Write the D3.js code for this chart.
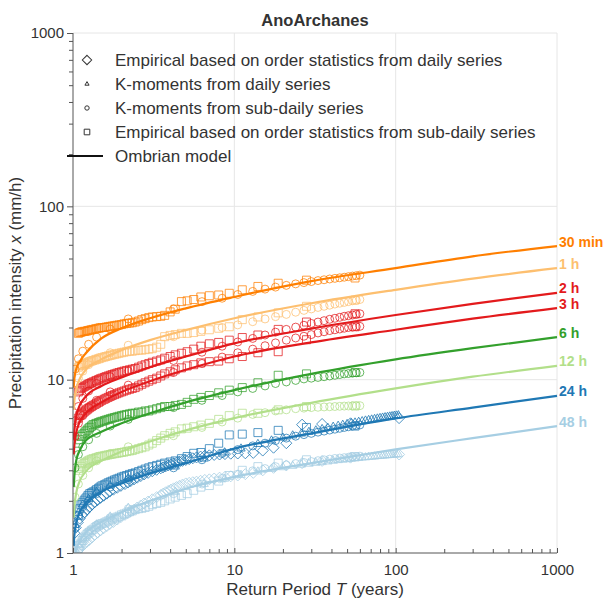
<!DOCTYPE html>
<html>
<head>
<meta charset="utf-8">
<script src="https://cdn.jsdelivr.net/npm/d3@7"></script>
<style>
  body { margin: 0; background: #fff; }
  text { font-family: "Liberation Sans", Arial, sans-serif; }
</style>
</head>
<body>
<div id="chart"></div>
<script>
// durations and colours
const durations = ['30 min', '1 h', '2 h', '3 h', '6 h', '12 h', '24 h', '48 h'];
const colors = ['#ff7f00', '#fdbf6f', '#e31a1c', '#e31a1c', '#33a02c', '#b2df8a', '#1f78b4', '#a6cee3'];

// ombrian model curves
const T_MODEL = [1.01, 1.02, 1.05, 1.1, 1.2, 1.5, 2, 3, 5, 10, 30, 100, 300, 1000];
const model30min = [9.0, 10.2, 11.6, 12.7, 14.2, 17.3, 19.8, 22.6, 25.8, 30, 37, 44, 51.5, 59];
const model1h = [6.7, 7.6, 8.9, 10.1, 11.4, 13.1, 14.8, 16.9, 19.3, 22.6, 27.6, 33, 38.3, 44];
const model2h = [4.5, 5.1, 6.2, 7.1, 8.0, 9.2, 10.3, 11.8, 13.6, 16.2, 19.7, 23.6, 27.4, 31.7];
const model3h = [3.7, 4.2, 5.0, 5.7, 6.4, 7.4, 8.5, 9.8, 11.4, 13.6, 16.4, 19.4, 22.5, 25.9];
const model6h = [2.4, 2.8, 3.45, 3.9, 4.45, 5.0, 5.6, 6.4, 7.4, 8.7, 10.8, 13.1, 15.2, 17.6];
const model12h = [1.6, 1.85, 2.25, 2.6, 2.95, 3.4, 3.85, 4.4, 5.1, 6.0, 7.35, 8.9, 10.4, 12.0];
const model24h = [1.1, 1.27, 1.5, 1.72, 1.94, 2.26, 2.52, 2.88, 3.3, 4.0, 4.9, 5.98, 6.9, 8.06];
const model48h = [0.8, 0.92, 1.05, 1.17, 1.31, 1.51, 1.72, 2.0, 2.35, 2.75, 3.3, 3.96, 4.6, 5.4];

// empirical, sub-daily series (squares)
const T_EMP = [56, 28, 18.7, 14, 11.2, 9.3, 8, 7, 6.2, 5.6, 5.1, 4.7, 4.3, 4, 3.7, 3.5, 3.3, 3.1, 2.95, 2.8,
  2.67, 2.55, 2.43, 2.33, 2.24, 2.15, 2.07, 2, 1.93, 1.87, 1.81, 1.75, 1.7, 1.65, 1.6, 1.56, 1.51, 1.47, 1.44, 1.4,
  1.37, 1.33, 1.3, 1.27, 1.24, 1.22, 1.19, 1.17, 1.14, 1.12, 1.1, 1.08];
const emp30min = [38.6, 37.5, 36, 34.5, 33, 31.5, 30.8, 30.5, 30, 29, 28.5, 28.2, 25.5, 24.6, 23.5, 23.2, 23.1, 23, 22.8, 22.5,
  22.2, 21.8, 21.5, 21.3, 21.2, 21.1, 21, 20.8, 20.7, 20.6, 20.5, 20.4, 20.3, 20.2, 20.1, 20, 20, 19.9, 19.8, 19.7,
  19.6, 19.5, 19.4, 19.3, 19.2, 19.1, 19, 19, 18.9, 18.8, 18.7, 18.5];
const emp1h = [28.8, 26.5, 24.3, 23, 22.2, 20.2, 19.8, 19.4, 19, 18.7, 18.5, 18.5, 18.2, 18, 17.7, 16, 15.4, 15.1, 15, 14.9,
  14.8, 14.8, 14.7, 14.6, 14.6, 14.5, 14.4, 14.3, 14.2, 14.1, 14, 13.9, 13.8, 13.7, 13.6, 13.5, 13.4, 13.3, 13.2, 13.1,
  13, 12.9, 12.8, 12.7, 12.6, 12.5, 12.4, 12.3, 12.2, 12.1, 12, 11.8];
const emp2h = [24, 21.5, 19.5, 18.1, 17.5, 16.9, 16.4, 16.1, 15.6, 15, 14.5, 14.2, 13.9, 13.6, 13.3, 13, 12.8, 12.6, 12.4, 12.2,
  12, 11.8, 11.6, 11.5, 11.4, 11.3, 11.2, 11.1, 11, 10.9, 10.8, 10.7, 10.6, 10.5, 10.4, 10.3, 10.2, 10.1, 10, 9.9,
  9.8, 9.7, 9.6, 9.5, 9.4, 9.3, 9.2, 9.1, 9, 8.9, 8.7, 8.5];
const emp3h = [20.2, 17, 14.5, 14.3, 13.6, 13.2, 12.8, 12.7, 12.5, 12.2, 12, 11.7, 11.4, 11.1, 10.8, 10.5, 10.2, 10, 9.8, 9.6,
  9.4, 9.2, 9, 8.9, 8.8, 8.7, 8.6, 8.5, 8.4, 8.3, 8.2, 8.1, 8, 7.9, 7.8, 7.7, 7.6, 7.5, 7.4, 7.3,
  7.2, 7.1, 7, 6.9, 6.8, 6.7, 6.6, 6.5, 6.4, 6.3, 6.2, 6];
const emp6h = [11, 10.8, 10.6, 9.6, 9, 8.7, 8.4, 8.1, 7.9, 7.7, 7.4, 7.2, 7.1, 7, 7, 6.9, 6.8, 6.7, 6.6, 6.6,
  6.5, 6.5, 6.4, 6.4, 6.35, 6.3, 6.25, 6.2, 6.15, 6.1, 6.05, 6, 5.95, 5.9, 5.85, 5.8, 5.75, 5.7, 5.65, 5.6,
  5.55, 5.5, 5.4, 5.3, 5.2, 5.1, 5, 4.9, 4.8, 4.7, 4.5, 4.3];
const emp12h = [7.05, 7, 6.7, 6.4, 6.4, 6.2, 5.9, 5.6, 5.47, 5.35, 5.25, 5.2, 5, 4.9, 4.75, 4.6, 4.45, 4.3, 4.2, 4.1,
  4.05, 4, 3.95, 3.9, 3.88, 3.85, 3.82, 3.8, 3.78, 3.76, 3.74, 3.72, 3.7, 3.68, 3.66, 3.64, 3.62, 3.6, 3.58, 3.55,
  3.52, 3.5, 3.47, 3.44, 3.4, 3.36, 3.32, 3.28, 3.22, 3.15, 3.08, 3];
const emp24h = [5.4, 5.3, 5.1, 4.95, 4.85, 4.8, 4.3, 4, 3.8, 3.76, 3.6, 3.5, 3.4, 3.35, 3.3, 3.25, 3.2, 3.15, 3.1, 3.05,
  3, 2.95, 2.9, 2.87, 2.84, 2.8, 2.77, 2.74, 2.7, 2.67, 2.64, 2.6, 2.57, 2.54, 2.5, 2.47, 2.44, 2.4, 2.36, 2.32,
  2.28, 2.25, 2.22, 2.2, 2.15, 2.1, 2.05, 2, 1.95, 1.9, 1.8, 1.65];
const emp48h = [3.6, 3.45, 3.3, 3.15, 3, 2.8, 2.6, 2.45, 2.4, 2.3, 2.2, 2.15, 2.1, 2.05, 2, 1.96, 1.93, 1.9, 1.86, 1.83,
  1.81, 1.8, 1.78, 1.75, 1.73, 1.7, 1.68, 1.66, 1.63, 1.61, 1.59, 1.57, 1.55, 1.53, 1.51, 1.49, 1.48, 1.46, 1.44, 1.42,
  1.4, 1.37, 1.35, 1.32, 1.3, 1.28, 1.25, 1.22, 1.18, 1.14, 1.1, 1.06];

// K-moments, sub-daily series (circles)
const T_KM = [1.03, 1.08, 1.15, 1.25, 1.4, 1.7, 2.2, 4.2, 6.3, 8.4, 10.5, 13, 15.5, 18, 21, 24, 27, 30, 33, 36,
  39, 42, 45, 48, 51, 54, 57, 60];
const km30min = [11.5, 13.2, 14.6, 16, 17.6, 19.6, 22.4, 25.6, 28.2, 29.5, 31, 32.3, 33.3, 34.2, 35, 35.7, 36.3, 36.8, 37.3, 37.7,
  38.1, 38.4, 38.7, 39, 39.3, 39.6, 39.8, 40.1];
const km1h = [8.6, 10.2, 11.2, 12.2, 13.1, 14.3, 15.8, 17.7, 19.3, 20, 20.7, 21.6, 22.4, 23.1, 23.8, 24.5, 25.1, 25.6, 26.1, 26.5,
  26.9, 27.3, 27.6, 27.9, 28.2, 28.5, 28.7, 29];
const km2h = [5.8, 7.0, 7.8, 8.6, 9.5, 10.4, 11.2, 12.9, 14.4, 15.6, 16.5, 17.3, 18.1, 18.8, 19.5, 20.1, 20.6, 21.1, 21.5, 21.9,
  22.3, 22.6, 22.9, 23.2, 23.4, 23.6, 23.8, 24];
const km3h = [4.7, 5.6, 6.2, 6.9, 7.6, 8.5, 9.3, 11.0, 12.4, 13.5, 14.3, 15, 15.7, 16.3, 16.9, 17.4, 17.8, 18.2, 18.6, 18.9,
  19.2, 19.4, 19.6, 19.8, 20, 20.1, 20.2, 20.3];
const km6h = [3.1, 3.7, 4.1, 4.5, 4.9, 5.4, 5.9, 6.9, 7.6, 8.1, 8.5, 8.9, 9.2, 9.5, 9.7, 9.9, 10.1, 10.2, 10.3, 10.4,
  10.5, 10.6, 10.7, 10.8, 10.85, 10.9, 10.95, 11];
const km12h = [2.1, 2.5, 2.8, 3.1, 3.4, 3.75, 4.1, 4.75, 5.3, 5.7, 6.0, 6.3, 6.45, 6.6, 6.7, 6.8, 6.85, 6.9, 6.93, 6.96,
  6.98, 7.0, 7.02, 7.04, 7.05, 7.06, 7.07, 7.08];
const km24h = [1.4, 1.65, 1.85, 2.0, 2.2, 2.4, 2.65, 3.1, 3.45, 3.75, 3.95, 4.15, 4.3, 4.45, 4.6, 4.72, 4.82, 4.9, 4.98, 5.05,
  5.12, 5.18, 5.24, 5.3, 5.35, 5.4, 5.44, 5.48];
const km48h = [1.0, 1.12, 1.22, 1.33, 1.45, 1.6, 1.8, 2.2, 2.5, 2.7, 2.85, 2.98, 3.07, 3.15, 3.22, 3.28, 3.33, 3.37, 3.41, 3.45,
  3.48, 3.51, 3.53, 3.55, 3.57, 3.59, 3.6, 3.62];

// daily series: empirical (diamonds) and K-moments (triangles), 24 h and 48 h only
const T_DAILY_EMP = [105, 52.5, 35, 26.3, 21, 17.5, 15, 13.1, 11.7, 10.5, 9.5, 8.75, 8.1, 7.5, 7, 6.56, 6.18, 5.83, 5.53, 5.25,
  5, 4.77, 4.57, 4.38, 4.2, 4.04, 3.89, 3.75, 3.62, 3.5, 3.3, 3.1, 2.92, 2.76, 2.63, 2.5, 2.39, 2.28, 2.19, 2.1,
  1.98, 1.88, 1.78, 1.69, 1.62, 1.55, 1.48, 1.42, 1.36, 1.31, 1.26, 1.22, 1.18, 1.14, 1.1, 1.07, 1.04, 1.02];
const dailyEmp24h = [6.0, 5.6, 5.55, 5.5, 4.3, 4.05, 3.9, 3.78, 3.76, 3.75, 3.74, 3.72, 3.7, 3.68, 3.66, 3.64, 3.6, 3.56, 3.52, 3.48,
  3.44, 3.4, 3.36, 3.32, 3.28, 3.24, 3.2, 3.16, 3.12, 3.08, 3.02, 2.96, 2.9, 2.84, 2.78, 2.72, 2.66, 2.6, 2.55, 2.5,
  2.44, 2.38, 2.32, 2.26, 2.2, 2.14, 2.08, 2.02, 1.96, 1.9, 1.84, 1.78, 1.72, 1.66, 1.58, 1.5, 1.4, 1.3];
const dailyEmp48h = [3.7, 3.55, 3.4, 3.3, 3.2, 3.1, 3.0, 2.9, 2.85, 2.8, 2.77, 2.75, 2.72, 2.69, 2.66, 2.64, 2.61, 2.58, 2.56, 2.54,
  2.52, 2.48, 2.44, 2.4, 2.36, 2.32, 2.28, 2.24, 2.2, 2.16, 2.1, 2.04, 1.98, 1.93, 1.88, 1.83, 1.78, 1.74, 1.7, 1.66,
  1.61, 1.56, 1.51, 1.47, 1.43, 1.39, 1.35, 1.31, 1.27, 1.23, 1.19, 1.16, 1.13, 1.1, 1.06, 1.03, 1.0, 0.97];
const T_DAILY_KM = [1.03, 1.08, 1.15, 1.25, 1.4, 1.7, 2.2, 4.3, 6.5, 8.7, 11, 14, 17, 20, 23, 26, 29, 32, 35, 38,
  41, 44, 47, 50, 53, 56, 59, 62, 65, 68, 71, 74, 77, 80, 83, 86, 89, 92, 95, 98, 101, 104];
const dailyKm24h = [1.45, 1.7, 1.9, 2.05, 2.25, 2.45, 2.7, 3.15, 3.5, 3.8, 4.0, 4.25, 4.45, 4.62, 4.76, 4.88, 4.99, 5.09, 5.18, 5.26,
  5.34, 5.41, 5.48, 5.54, 5.6, 5.65, 5.7, 5.75, 5.8, 5.84, 5.88, 5.92, 5.96, 6.0, 6.03, 6.06, 6.09, 6.12, 6.15, 6.18, 6.2, 6.22];
const dailyKm48h = [1.0, 1.12, 1.22, 1.33, 1.46, 1.62, 1.82, 2.25, 2.5, 2.68, 2.82, 2.95, 3.05, 3.12, 3.18, 3.23, 3.27, 3.31, 3.34, 3.37,
  3.4, 3.43, 3.45, 3.47, 3.49, 3.51, 3.53, 3.55, 3.56, 3.58, 3.59, 3.6, 3.62, 3.63, 3.64, 3.65, 3.66, 3.67, 3.68, 3.69, 3.7, 3.71];

const legendLabels = [
  'Empirical based on order statistics from daily series',
  'K-moments from daily series',
  'K-moments from sub-daily series',
  'Empirical based on order statistics from sub-daily series',
  'Ombrian model'
];
const xTickLabels = ['1', '10', '100', '1000'];
const yTickLabels = ['1', '10', '100', '1000'];

const models = [model30min, model1h, model2h, model3h, model6h, model12h, model24h, model48h];
const emps = [emp30min, emp1h, emp2h, emp3h, emp6h, emp12h, emp24h, emp48h];
const kms = [km30min, km1h, km2h, km3h, km6h, km12h, km24h, km48h];
const dailyEmps = [null, null, null, null, null, null, dailyEmp24h, dailyEmp48h];
const dailyKms = [null, null, null, null, null, null, dailyKm24h, dailyKm48h];

const width = 609, height = 599;
const plot = { left: 73, right: 557, top: 33, bottom: 553 };
const textColor = '#333';
const axisColor = '#555';
const gridColor = '#e6e6e6';

const svg = d3.select('#chart')
  .append('svg')
    .attr('width', width)
    .attr('height', height);

const x = d3.scaleLog().domain([1, 1000]).range([plot.left, plot.right]);
const y = d3.scaleLog().domain([1, 1000]).range([plot.bottom, plot.top]);

const majors = [1, 10, 100, 1000];
const allTicks = [];
for (let d = 1; d < 1000; d *= 10) {
  for (let k = 1; k < 10; k++) allTicks.push(d * k);
}
allTicks.push(1000);

// gridlines
svg.append('g')
  .selectAll('line.vx')
  .data(majors.slice(1))
  .enter()
  .append('line')
    .attr('x1', d => x(d)).attr('x2', d => x(d))
    .attr('y1', plot.top).attr('y2', plot.bottom)
    .attr('stroke', gridColor).attr('stroke-width', 1);
svg.append('g')
  .selectAll('line.hy')
  .data(majors.slice(1))
  .enter()
  .append('line')
    .attr('y1', d => y(d)).attr('y2', d => y(d))
    .attr('x1', plot.left).attr('x2', plot.right)
    .attr('stroke', gridColor).attr('stroke-width', 1);

// clip region for data
svg.append('clipPath').attr('id', 'clip')
  .append('rect')
    .attr('x', plot.left).attr('y', plot.top)
    .attr('width', plot.right - plot.left + 2)
    .attr('height', plot.bottom - plot.top);

const data = svg.append('g').attr('clip-path', 'url(#clip)');

const square = d3.symbol().type(d3.symbolSquare).size(64);
const circle = d3.symbol().type(d3.symbolCircle).size(50);
const triangle = d3.symbol().type(d3.symbolTriangle).size(30);
const diamond = 'M0,-5.5L5.5,0L0,5.5L-5.5,0Z';

function drawMarkers(g, ts, vs, path, color, opacity) {
  g.append('g')
    .selectAll('path')
    .data(ts.map((t, i) => [t, vs[i]]))
    .enter()
    .append('path')
      .attr('transform', d => `translate(${x(d[0])},${y(d[1])})`)
      .attr('d', path)
      .attr('fill', 'none')
      .attr('stroke', color)
      .attr('stroke-opacity', opacity)
      .attr('stroke-width', 1);
}

// draw from the bottom series up
for (let i = durations.length - 1; i >= 0; i--) {
  const c = colors[i];
  if (dailyEmps[i]) drawMarkers(data, T_DAILY_EMP, dailyEmps[i], diamond, c, 0.8);
  if (dailyKms[i]) drawMarkers(data, T_DAILY_KM, dailyKms[i], triangle, c, 0.8);
  drawMarkers(data, T_EMP, emps[i], square, c, 0.75);
  drawMarkers(data, T_KM, kms[i], circle, c, 0.75);
}

const line = d3.line()
  .x(d => x(d[0]))
  .y(d => y(d[1]))
  .curve(d3.curveMonotoneX);

models.forEach((m, i) => {
  data.append('path')
    .datum(T_MODEL.map((t, j) => [t, m[j]]))
    .attr('d', line)
    .attr('fill', 'none')
    .attr('stroke', colors[i])
    .attr('stroke-width', 2.2);
});

// duration labels at the right end
svg.append('g')
  .selectAll('text')
  .data(durations)
  .enter()
  .append('text')
    .attr('x', plot.right + 2)
    .attr('y', (d, i) => y(models[i][models[i].length - 1]) + 0.5)
    .attr('fill', (d, i) => colors[i])
    .attr('font-size', 14)
    .attr('font-weight', 'bold')
    .text(d => d);

// axes
const xAxis = d3.axisBottom(x)
  .tickValues(allTicks)
  .tickSize(-4)
  .tickFormat(d => {
    const k = majors.indexOf(d);
    return k >= 0 ? xTickLabels[k] : '';
  });
const gx = svg.append('g')
  .attr('transform', `translate(0,${plot.bottom})`)
  .call(xAxis);
gx.select('.domain').attr('stroke', axisColor).attr('d', `M${plot.left},0H${plot.right}`);
gx.selectAll('.tick line').attr('stroke', axisColor)
  .attr('y2', d => majors.indexOf(d) >= 0 ? -5 : -4);
gx.selectAll('.tick text')
  .attr('y', 11)
  .attr('font-size', 15)
  .attr('fill', textColor)
  .attr('font-family', '"Liberation Sans", Arial, sans-serif');

const yAxis = d3.axisLeft(y)
  .tickValues(allTicks)
  .tickSize(6)
  .tickFormat(d => {
    const k = majors.indexOf(d);
    return k >= 0 ? yTickLabels[k] : '';
  });
const gy = svg.append('g')
  .attr('transform', `translate(${plot.left},0)`)
  .call(yAxis);
gy.select('.domain').attr('stroke', axisColor).attr('d', `M0,${plot.top}V${plot.bottom}`);
gy.selectAll('.tick line').attr('stroke', axisColor)
  .attr('x2', d => majors.indexOf(d) >= 0 ? -6 : -4);
gy.selectAll('.tick text')
  .attr('x', -9)
  .attr('font-size', 15)
  .attr('fill', textColor)
  .attr('font-family', '"Liberation Sans", Arial, sans-serif');

// title and axis titles
svg.append('text')
  .attr('x', 315).attr('y', 26)
  .attr('text-anchor', 'middle')
  .attr('font-size', 16.5)
  .attr('font-weight', 'bold')
  .attr('fill', textColor)
  .text('AnoArchanes');

const xt = svg.append('text')
  .attr('x', (plot.left + plot.right) / 2).attr('y', 595)
  .attr('text-anchor', 'middle')
  .attr('font-size', 17)
  .attr('fill', textColor);
xt.append('tspan').text('Return Period ');
xt.append('tspan').attr('font-style', 'italic').text('T');
xt.append('tspan').text(' (years)');

const yt = svg.append('text')
  .attr('transform', `translate(21,${(plot.top + plot.bottom) / 2}) rotate(-90)`)
  .attr('text-anchor', 'middle')
  .attr('font-size', 17)
  .attr('fill', textColor);
yt.append('tspan').text('Precipitation intensity ');
yt.append('tspan').attr('font-style', 'italic').text('x');
yt.append('tspan').text(' (mm/h)');

// legend
const legendSymbols = [diamond, triangle(), circle(), square(), null];
const legendSizes = [0.85, 0.5, 0.55, 0.7];
const legend = svg.append('g');
legendLabels.forEach((label, i) => {
  const ly = 60 + i * 24;
  if (legendSymbols[i]) {
    legend.append('path')
      .attr('transform', `translate(87,${ly}) scale(${legendSizes[i]})`)
      .attr('d', legendSymbols[i])
      .attr('fill', 'none')
      .attr('stroke', textColor)
      .attr('stroke-width', 1 / legendSizes[i]);
  } else {
    legend.append('line')
      .attr('x1', 67).attr('x2', 103)
      .attr('y1', ly).attr('y2', ly)
      .attr('stroke', '#111')
      .attr('stroke-width', 2);
  }
  legend.append('text')
    .attr('x', 115).attr('y', ly + 6)
    .attr('font-size', 17)
    .attr('fill', textColor)
    .text(label);
});
</script>
</body>
</html>
